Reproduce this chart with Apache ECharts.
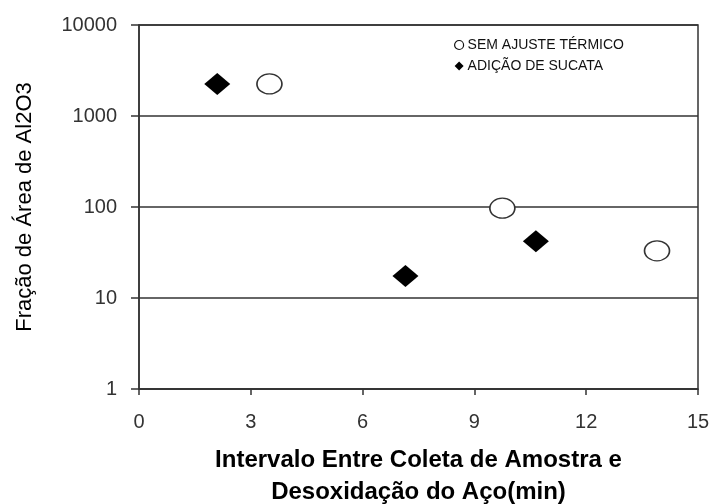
<!DOCTYPE html>
<html><head><meta charset="utf-8">
<script src="https://cdn.jsdelivr.net/npm/echarts@6/dist/echarts.min.js"></script>
<style>html,body{margin:0;padding:0;background:#fff}#c{width:710px;height:504px}</style>
</head><body><div id="c"></div>
<script>
const seriesNames = ['SEM AJUSTE TÉRMICO', 'ADIÇÃO DE SUCATA'];
const semAjusteX = [3.5, 9.75, 13.9];
const semAjusteY = [2250, 97, 33];
const sucataX = [2.1, 7.15, 10.65];
const sucataY = [2250, 17.5, 42];
const xTicks = [0, 3, 6, 9, 12, 15];
const yTicks = [1, 10, 100, 1000, 10000];
const xTitle = 'Intervalo Entre Coleta de Amostra e\nDesoxidação do Aço(min)';
const yTitle = 'Fração de Área de Al2O3';

const font = 'Liberation Sans, Arial, sans-serif';
const chart = echarts.init(document.getElementById('c'), null, {renderer: 'canvas'});
chart.setOption({
  animation: false,
  backgroundColor: '#fff',
  grid: {left: 139, top: 25, right: 12, bottom: 115, show: true, borderColor: '#333', borderWidth: 1.5,
         containLabel: false, outerBoundsMode: 'none'},
  legend: {
    orient: 'vertical', left: 449, top: 33, itemGap: 7, itemWidth: 9, itemHeight: 9,
    textStyle: {fontFamily: font, fontSize: 14, color: '#111', padding: [0, 0, 0, -1]},
    data: [
      {name: seriesNames[0], icon: 'circle', itemStyle: {color: '#fff', borderColor: '#111', borderWidth: 1.2}},
      {name: seriesNames[1], icon: 'diamond', itemStyle: {color: '#000', borderWidth: 0}}
    ]
  },
  xAxis: {
    type: 'value', min: xTicks[0], max: xTicks[xTicks.length - 1], interval: 3,
    name: xTitle, nameLocation: 'middle', nameGap: 55,
    nameTextStyle: {fontFamily: font, fontSize: 24, color: '#000', lineHeight: 32, fontWeight: 'bold'},
    axisLine: {lineStyle: {color: '#333', width: 1.5}},
    axisTick: {show: true, length: 6, lineStyle: {color: '#333', width: 1.5}},
    axisLabel: {fontFamily: font, fontSize: 20, color: '#333', margin: 23},
    splitLine: {show: false}
  },
  yAxis: {
    type: 'log', logBase: 10, min: yTicks[0], max: yTicks[yTicks.length - 1],
    name: yTitle, nameLocation: 'middle', nameGap: 103,
    nameTextStyle: {fontFamily: font, fontSize: 22, color: '#000'},
    axisLine: {lineStyle: {color: '#333', width: 1.5}},
    axisTick: {show: true, length: 8, lineStyle: {color: '#333', width: 1.5}},
    axisLabel: {fontFamily: font, fontSize: 20, color: '#333', margin: 22, formatter: v => String(v)},
    splitLine: {show: true, lineStyle: {color: '#333', width: 1.5}},
    minorTick: {show: false}
  },
  series: [
    {
      name: seriesNames[0], type: 'scatter', symbol: 'circle', symbolSize: [25, 20],
      itemStyle: {color: '#fff', borderColor: '#333', borderWidth: 1.5, opacity: 1},
      data: semAjusteX.map((x, i) => [x, semAjusteY[i]]), z: 3
    },
    {
      name: seriesNames[1], type: 'scatter', symbol: 'diamond', symbolSize: [26, 22],
      itemStyle: {color: '#000', opacity: 1},
      data: sucataX.map((x, i) => [x, sucataY[i]]), z: 4
    }
  ]
});
</script></body></html>
